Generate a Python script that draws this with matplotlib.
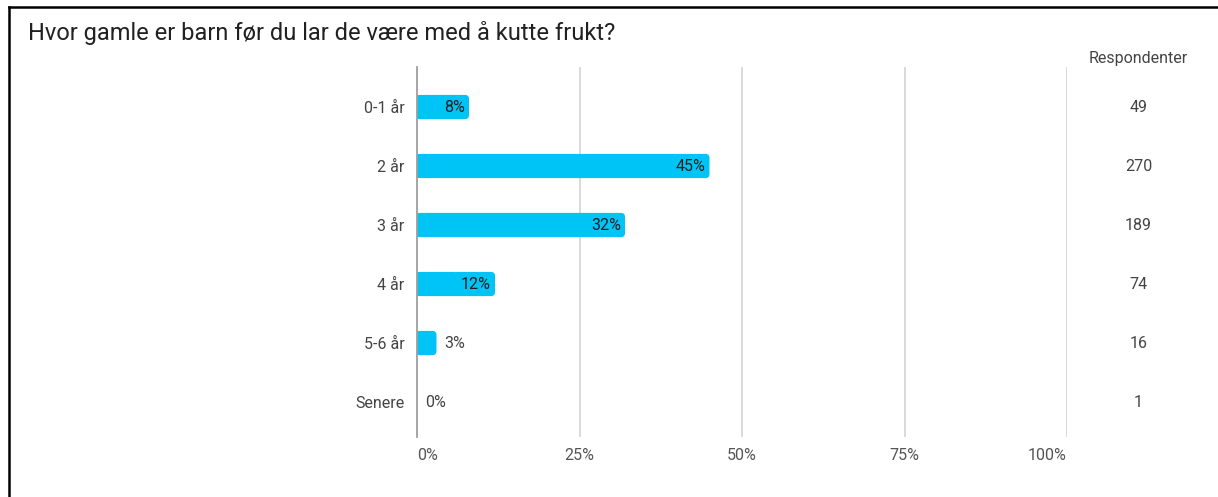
import matplotlib
matplotlib.use('Agg')
import matplotlib.pyplot as plt
from matplotlib.patches import FancyBboxPatch, Rectangle
from matplotlib.lines import Line2D

plt.rcParams['font.family'] = ['Roboto', 'DejaVu Sans']

title = 'Hvor gamle er barn før du lar de være med å kutte frukt?'
categories = ['0-1 år', '2 år', '3 år', '4 år', '5-6 år', 'Senere']
percent = [8, 45, 32, 12, 3, 0]
respondents = [49, 270, 189, 74, 16, 1]
xticks = [0, 25, 50, 75, 100]

bar_color = '#00c4f5'
W, H = 1218, 497
fs = 11.5

fig = plt.figure(figsize=(W / 100, H / 100), dpi=100)
ax = fig.add_axes([417 / W, 1 - 437 / H, 650 / W, 370 / H])

ax.set_xlim(0, 100)
ax.set_ylim(5.593, -0.678)

# px per data unit, used to keep the corner radius round
px_x = 650 / 100
px_y = 59.0
radius = 4.0 / px_x
bh = 0.41

for i, (p, n) in enumerate(zip(percent, respondents)):
    if p > 0:
        ax.add_patch(FancyBboxPatch((0, i - bh / 2), p, bh,
                                    boxstyle='round,pad=0,rounding_size=%f' % radius,
                                    mutation_aspect=px_x / px_y,
                                    fc=bar_color, ec='none', zorder=3))
        ax.add_patch(Rectangle((0, i - bh / 2), max(p - radius, 0), bh,
                               fc=bar_color, ec='none', zorder=3))
    label = '%d%%' % p
    if p >= 8:
        ax.text(p - 0.6, i, label, ha='right', va='center', fontsize=fs,
                color='#1f1f1f', zorder=4)
    else:
        ax.text(p + 1.2, i, label, ha='left', va='center', fontsize=fs,
                color='#444444', zorder=4)
    ax.text(111, i, str(n), ha='center', va='center', fontsize=fs,
            color='#444444', clip_on=False)

ax.text(111, -0.82, 'Respondenter', ha='center', va='center', fontsize=fs,
        color='#444444', clip_on=False)

for x in xticks[1:]:
    ax.axvline(x, color='#d3d3d3', lw=1.2, zorder=1)

ax.set_yticks(range(len(categories)))
ax.set_yticklabels(categories, fontsize=fs, color='#444444')
ax.set_xticks(xticks)
ax.set_xticklabels(['%d%%' % x for x in xticks], fontsize=fs, color='#555555')
xl = ax.get_xticklabels()
xl[0].set_ha('left')
xl[-1].set_ha('right')
ax.tick_params(axis='y', length=0, pad=9)
ax.tick_params(axis='x', length=0, pad=8)

for s in ['top', 'right', 'bottom']:
    ax.spines[s].set_visible(False)
ax.spines['left'].set_color('#9e9e9e')
ax.spines['left'].set_linewidth(1.3)
ax.spines['left'].set_zorder(5)

fig.text(28 / W, 1 - 33 / H, title, ha='left', va='center', fontsize=17,
         color='#212121')

# frame lines along the top and left edge
fig.add_artist(Line2D([9 / W, 1], [1 - 7 / H, 1 - 7 / H], color='black', lw=1.8))
fig.add_artist(Line2D([9 / W, 9 / W], [0, 1 - 7 / H], color='black', lw=1.8))

fig.savefig('out.png', dpi=100, facecolor='white')
